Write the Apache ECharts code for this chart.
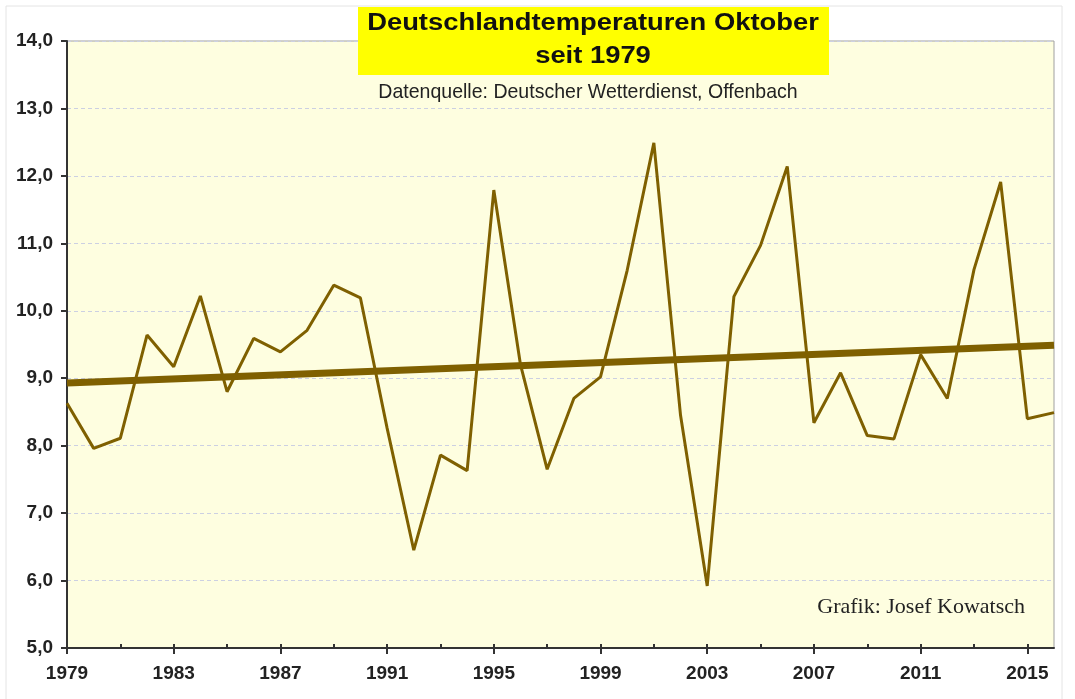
<!DOCTYPE html>
<html>
<head>
<meta charset="utf-8">
<script src="https://cdn.jsdelivr.net/npm/echarts@6/dist/echarts.min.js"></script>
<style>
  html, body { margin: 0; padding: 0; background: #fff; }
  #chart { width: 1075px; height: 699px; }
</style>
</head>
<body>
<div id="chart"></div>
<script>
// Oktober-Mitteltemperaturen Deutschland
const years = ['1979','1980','1981','1982','1983','1984','1985','1986','1987','1988',
  '1989','1990','1991','1992','1993','1994','1995','1996','1997','1998',
  '1999','2000','2001','2002','2003','2004','2005','2006','2007','2008',
  '2009','2010','2011','2012','2013','2014','2015','2016'];
const temps = [8.63, 7.96, 8.11, 9.64, 9.17, 10.22, 8.80, 9.59, 9.39, 9.71,
  10.38, 10.19, 8.26, 6.45, 7.86, 7.63, 11.79, 9.20, 7.65, 8.70,
  9.02, 10.6, 12.49, 8.45, 5.92, 10.21, 10.97, 12.14, 8.34, 9.08,
  8.15, 8.10, 9.35, 8.70, 10.61, 11.91, 8.40, 8.49];
// Trendlinie: Anfangs- und Endwert
const trendStart = 8.93;
const trendEnd = 9.49;

const trend = years.map((y, i) => i === 0 ? trendStart : (i === years.length - 1 ? trendEnd : null));

const lineColor = '#7F6000';
const chart = echarts.init(document.getElementById('chart'));

const option = {
  backgroundColor: '#fff',
  animation: false,
  grid: {
    left: 67, right: 21, top: 41, bottom: 51,
    show: true,
    backgroundColor: '#FEFEE0',
    borderColor: '#a0a0a0',
    borderWidth: 1
  },
  xAxis: [
    {
      type: 'category',
      data: years,
      boundaryGap: false,
      axisLine: { lineStyle: { color: '#333', width: 2 } },
      axisTick: { interval: 3, length: 6, lineStyle: { color: '#333', width: 2 } },
      axisLabel: {
        interval: 3, margin: 16,
        fontFamily: 'Liberation Sans', fontWeight: 'bold', fontSize: 19, color: '#222'
      },
      splitLine: { show: false }
    },
    {
      type: 'category',
      data: years,
      boundaryGap: false,
      position: 'bottom',
      axisLine: { show: false },
      axisTick: { interval: 1, inside: true, length: 4, lineStyle: { color: '#333', width: 2 } },
      axisLabel: { show: false },
      splitLine: { show: false }
    }
  ],
  yAxis: {
    type: 'value',
    min: 5, max: 14, interval: 1,
    axisLine: { show: true, lineStyle: { color: '#333', width: 2 } },
    axisTick: { show: true, length: 6, lineStyle: { color: '#333', width: 2 } },
    axisLabel: {
      margin: 14,
      fontFamily: 'Liberation Sans', fontWeight: 'bold', fontSize: 19, color: '#222',
      formatter: v => v.toFixed(1).replace('.', ',')
    },
    splitLine: { lineStyle: { color: '#ccd0e2', type: [4, 3], width: 1 } }
  },
  series: [
    {
      name: 'Trend',
      type: 'line',
      data: trend,
      connectNulls: true,
      symbol: 'none',
      lineStyle: { color: lineColor, width: 7 },
      z: 2
    },
    {
      name: 'Oktober',
      type: 'line',
      data: temps,
      symbol: 'none',
      lineStyle: { color: lineColor, width: 3 },
      z: 3
    }
  ],
  graphic: [
    {
      type: 'rect',
      shape: { x: 6, y: 6, width: 1056, height: 700 },
      style: { fill: 'none', stroke: '#e4e4e4', lineWidth: 1 },
      silent: true, z: -10
    },
    {
      type: 'rect',
      shape: { x: 358, y: 7, width: 471, height: 68 },
      style: { fill: '#FFFF00' },
      z: 10
    },
    {
      type: 'text',
      x: 593, y: 24, scaleX: 1.19,
      style: {
        text: 'Deutschlandtemperaturen Oktober',
        font: 'bold 23px "Liberation Sans"', fill: '#111',
        align: 'center', verticalAlign: 'middle'
      },
      z: 11
    },
    {
      type: 'text',
      x: 593, y: 57, scaleX: 1.19,
      style: {
        text: 'seit 1979',
        font: 'bold 23px "Liberation Sans"', fill: '#111',
        align: 'center', verticalAlign: 'middle'
      },
      z: 11
    },
    {
      type: 'text',
      x: 588, y: 92, scaleX: 0.93,
      style: {
        text: 'Datenquelle: Deutscher Wetterdienst, Offenbach',
        font: '21px "Liberation Sans"', fill: '#222',
        align: 'center', verticalAlign: 'middle'
      },
      z: 11
    },
    {
      type: 'text',
      x: 1025, y: 607,
      style: {
        text: 'Grafik: Josef Kowatsch',
        font: '22px "Liberation Serif"', fill: '#222',
        align: 'right', verticalAlign: 'middle'
      },
      z: 11
    }
  ]
};

chart.setOption(option);
</script>
</body>
</html>
